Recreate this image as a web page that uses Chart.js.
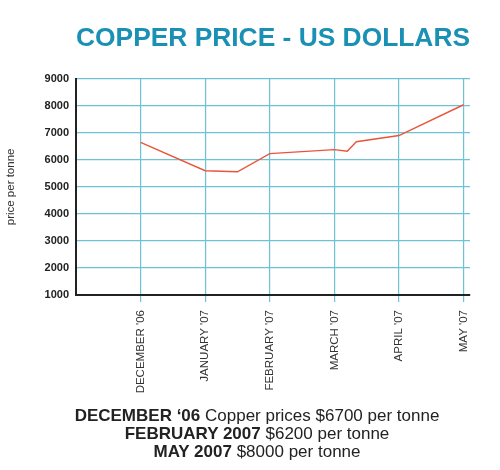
<!DOCTYPE html>
<html>
<head>
<meta charset="utf-8">
<script src="https://cdn.jsdelivr.net/npm/chart.js@4"></script>
<style>
  body { margin: 0; background: #fff; }
  #wrap { position: relative; width: 500px; height: 470px; }
  #note {
    position: absolute; left: 0; top: 407px; width: 514px;
    text-align: center; font: 17px "Liberation Sans", Arial, sans-serif;
    line-height: 18px; color: #222;
  }
</style>
</head>
<body>
<div id="wrap">
  <canvas id="myChart" width="500" height="470"></canvas>
  <div id="note">
    <b>DECEMBER ‘06</b> Copper prices $6700 per tonne<br>
    <b>FEBRUARY 2007</b> $6200 per tonne<br>
    <b>MAY 2007</b> $8000 per tonne
  </div>
</div>
<script>
// month ticks sit on whole numbers, points in between use fractions
var monthLabels = ["DECEMBER '06", "JANUARY '07", "FEBRUARY '07", "MARCH '07", "APRIL '07", "MAY '07"];
var monthPos = [0, 1, 2, 3, 4, 5];
var pricePos = [0, 1, 1.5, 2, 3, 3.2, 3.34, 4, 5];
var priceValues = [6650, 5600, 5560, 6230, 6380, 6320, 6670, 6900, 8040];
var yTicks = [1000, 2000, 3000, 4000, 5000, 6000, 7000, 8000, 9000];

var gridBlue = '#6cc3d7';
var font = '"Liberation Sans", Arial, sans-serif';

var points = pricePos.map(function (x, i) {
    return { x: x, y: priceValues[i] };
});

var ctx = document.getElementById("myChart");
var copperChart = new Chart(ctx, {
    type: 'line',
    data: {
        datasets: [{
            label: 'Copper price',
            data: points,
            borderColor: '#e9553b',
            borderWidth: 1.4,
            pointRadius: 0,
            tension: 0,
            fill: false
        }]
    },
    options: {
        responsive: false,
        animation: false,
        layout: { padding: { left: 0, right: 30, top: 0, bottom: 75 } },
        plugins: {
            legend: { display: false },
            tooltip: { enabled: false },
            title: {
                display: true,
                fullSize: false,
                text: 'COPPER PRICE - US DOLLARS',
                color: '#1a90b4',
                font: { family: font, size: 26.5, weight: 'bold' },
                padding: { top: 23, bottom: 24 }
            }
        },
        scales: {
            x: {
                type: 'linear',
                min: -1,
                max: 5.1,
                afterBuildTicks: function (scale) {
                    scale.ticks = monthPos.map(function (v) { return { value: v }; });
                },
                afterFit: function (scale) { scale.height = 100; },
                ticks: {
                    minRotation: 90,
                    maxRotation: 90,
                    padding: 8,
                    color: '#333',
                    font: { family: font, size: 11.5 },
                    callback: function (v) { return monthLabels[v]; }
                },
                grid: { color: gridBlue, lineWidth: 1.2, drawTicks: true, tickLength: 7, tickColor: gridBlue },
                border: { color: '#222', width: 2 }
            },
            y: {
                min: 1000,
                max: 9000,
                afterBuildTicks: function (scale) {
                    scale.ticks = yTicks.map(function (v) { return { value: v }; });
                },
                afterFit: function (scale) { scale.width = 76; },
                ticks: {
                    padding: 7,
                    color: '#222',
                    font: { family: font, size: 11, weight: 'bold' },
                    callback: function (v) { return String(v); }
                },
                grid: { color: gridBlue, lineWidth: 1.2, drawTicks: false },
                border: { color: '#222', width: 2 },
                title: {
                    display: true,
                    text: 'price per tonne',
                    color: '#333',
                    font: { family: font, size: 11.5 },
                    padding: { top: 4, bottom: 0 }
                }
            }
        }
    }
});
</script>
</body>
</html>
